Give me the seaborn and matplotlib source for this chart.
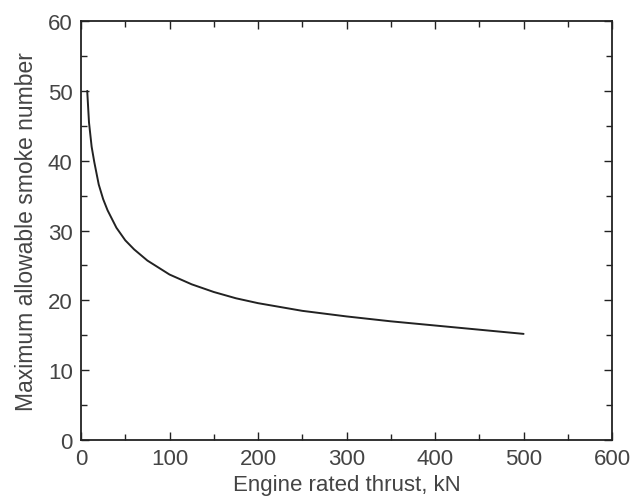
import matplotlib
matplotlib.use("Agg")
import matplotlib.pyplot as plt
from matplotlib.ticker import MultipleLocator
import seaborn as sns
import pandas as pd

thrust_kn = [7, 9, 12, 15, 20, 25, 30, 40, 50, 60, 75, 100, 125, 150, 175,
             200, 250, 300, 350, 400, 450, 500]
smoke_number = [50.0, 45.5, 42.0, 39.8, 36.6, 34.5, 32.9, 30.4, 28.6, 27.3,
                25.7, 23.7, 22.3, 21.2, 20.3, 19.6, 18.5, 17.7, 17.0, 16.4,
                15.8, 15.2]
x_ticks = [0, 100, 200, 300, 400, 500, 600]
y_ticks = [0, 10, 20, 30, 40, 50, 60]
x_label = "Engine rated thrust, kN"
y_label = "Maximum allowable smoke number"

sns.set_style("ticks")
plt.rcParams["font.family"] = ["Liberation Sans", "DejaVu Sans"]

df = pd.DataFrame({"thrust": thrust_kn, "sn": smoke_number})

fig = plt.figure(figsize=(6.31, 5.02), dpi=100)
ax = fig.add_axes([0.1284, 0.1215, 0.8416, 0.8345])
sns.lineplot(data=df, x="thrust", y="sn", ax=ax, color="#222222", linewidth=1.4)

ax.set_xlim(0, 600)
ax.set_ylim(0, 60)
ax.set_xticks(x_ticks)
ax.set_yticks(y_ticks)
ax.xaxis.set_minor_locator(MultipleLocator(50))
ax.yaxis.set_minor_locator(MultipleLocator(5))
ax.tick_params(which="both", direction="in", top=True, right=True,
               colors="#222222", labelcolor="#444444")
ax.tick_params(which="major", length=6, width=1.0, labelsize=16)
ax.tick_params(axis="y", which="major", pad=6)
ax.tick_params(axis="x", which="major", pad=6)
ax.tick_params(which="minor", length=4, width=1.0)
for s in ax.spines.values():
    s.set_color("#222222")
    s.set_linewidth(1.3)

ax.set_xlabel(x_label, fontsize=16, color="#444444", labelpad=3)
ax.set_ylabel(y_label, fontsize=16.5, color="#444444", labelpad=7)

fig.savefig("out.png", dpi=100)
